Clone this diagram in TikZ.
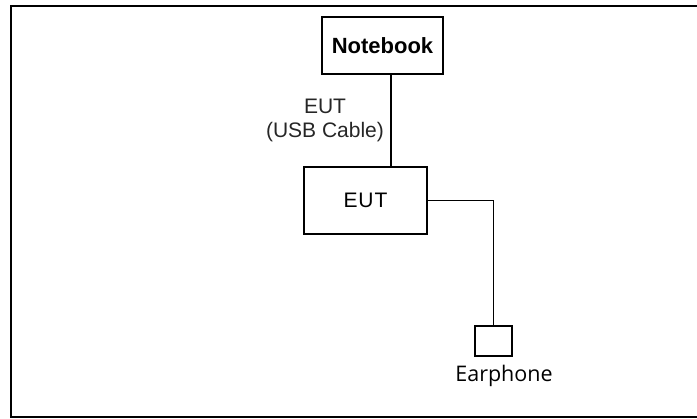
\documentclass[tikz,border=0pt]{standalone}
\usepackage{fontspec}
\setmainfont{Liberation Sans}
\newfontfamily\earfont{Open Sans}
\tikzset{
unit/.style = {draw, line width=1.3pt, inner sep=0pt},
cable/.style = {line width=1.3pt},
}
\begin{document}
\begin{tikzpicture}[x=1pt,y=-1pt]
\useasboundingbox (0,0) rectangle (697,419);
% frame, right side runs off the page
\draw [line width=2.8pt] (705,6) -- (11,6) -- (11,417) -- (705,417);
\node [unit, minimum width=121pt, minimum height=57pt, font=\fontsize{22}{26}\selectfont\bfseries] (nb) at (382.5,45.5) {Notebook};
\node [unit, minimum width=123pt, minimum height=67pt, font=\fontsize{21}{25}\selectfont] (eut) at (365.5,200.5) {E\kern1ptU\kern1ptT};
\node [unit, minimum width=37pt, minimum height=30pt] (ear) at (493.5,341) {};
\node [align=center, text=black!85, font=\fontsize{21}{24}\selectfont] (usblbl) at (325,120) {EUT\\(USB Cable)};
\node [font=\earfont\fontsize{21.5}{25}\selectfont] (earlbl) at (504,376) {Earphone};
\coordinate (usb) at (391,0);
\draw [cable] (nb.south -| usb) -- (eut.north -| usb);
\draw [cable] (eut.east) -| (ear.north);
\end{tikzpicture}
\end{document}
